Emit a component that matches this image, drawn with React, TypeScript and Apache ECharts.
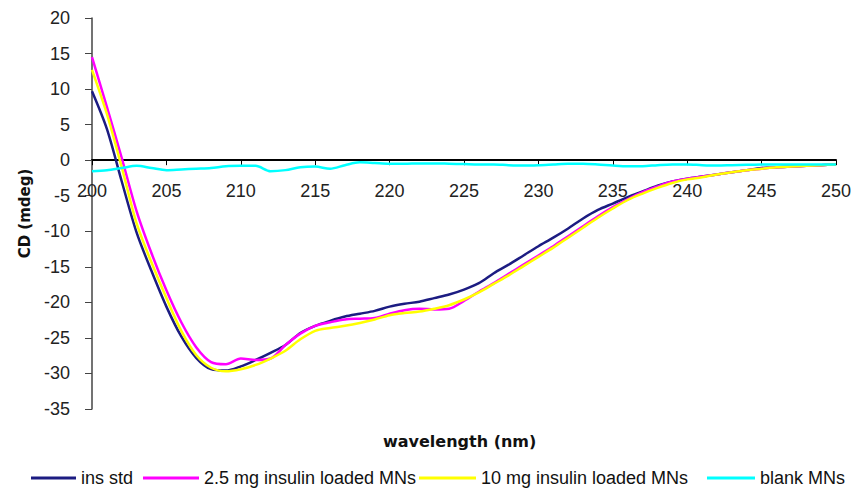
import React, { useEffect, useRef } from "react";
import * as echarts from "echarts";

const wavelengths = [
  200, 201, 202, 203, 204, 205, 206, 207, 208, 209, 210, 211, 212, 213, 214, 215, 216, 217, 218, 219,
  220, 221, 222, 223, 224, 225, 226, 227, 228, 229, 230, 231, 232, 233, 234, 235, 236, 237, 238, 239,
  240, 241, 242, 243, 244, 245, 246, 247, 248, 249, 250,
];

const insStd = [
  9.7, 4.4, -3.0, -10.2, -15.6, -20.6, -24.8, -27.8, -29.4, -29.6, -29.0, -28.1, -27.1, -26.0, -24.3, -23.3, -22.6, -22.0, -21.6, -21.2,
  -20.6, -20.2, -19.9, -19.4, -18.9, -18.2, -17.3, -15.9, -14.7, -13.4, -12.1, -10.9, -9.6, -8.2, -7.0, -6.1, -5.2, -4.4, -3.6, -3.0,
  -2.6, -2.3, -2.0, -1.7, -1.4, -1.1, -1.0, -0.9, -0.8, -0.7, -0.6,
];

const mg25 = [
  14.5, 7.5, 0.3, -7.2, -13.1, -18.3, -22.8, -26.3, -28.4, -28.7, -27.9, -28.1, -27.9, -26.0, -24.4, -23.3, -22.8, -22.4, -22.3, -22.2,
  -21.6, -21.1, -20.9, -21.0, -20.9, -19.8, -18.5, -17.3, -16.0, -14.7, -13.4, -12.1, -10.7, -9.3, -7.9, -6.6, -5.5, -4.5, -3.7, -3.0,
  -2.6, -2.3, -2.0, -1.7, -1.4, -1.2, -1.0, -0.9, -0.8, -0.7, -0.6,
];

const mg10 = [
  12.7, 6.5, -1.0, -8.9, -14.4, -19.4, -24.0, -27.4, -29.2, -29.7, -29.4, -28.8, -27.9, -26.8, -25.2, -24.0, -23.6, -23.3, -22.9, -22.4,
  -21.8, -21.5, -21.3, -20.9, -20.4, -19.6, -18.6, -17.4, -16.2, -14.9, -13.6, -12.3, -10.9, -9.5, -8.1, -6.8, -5.6, -4.7, -3.9, -3.2,
  -2.7, -2.4, -2.0, -1.7, -1.4, -1.2, -1.0, -0.9, -0.8, -0.7, -0.6,
];

const blank = [
  -1.55, -1.4, -1.1, -0.8, -1.1, -1.4, -1.3, -1.2, -1.1, -0.85, -0.8, -0.8, -1.55, -1.4, -1.0, -0.9, -1.2, -0.7, -0.3, -0.4,
  -0.5, -0.5, -0.45, -0.45, -0.5, -0.55, -0.6, -0.6, -0.7, -0.75, -0.7, -0.6, -0.5, -0.5, -0.6, -0.75, -0.85, -0.85, -0.7, -0.6,
  -0.6, -0.7, -0.75, -0.7, -0.65, -0.6, -0.6, -0.6, -0.6, -0.6, -0.6,
];

const seriesNames = ["ins std", "2.5 mg insulin loaded MNs", "10 mg insulin loaded MNs", "blank MNs"];
const seriesColors = ["#1c1c82", "#ff00ff", "#ffff00", "#00ffff"];
const seriesValues = [insStd, mg25, mg10, blank];

const FONT = "Liberation Sans, Arial, sans-serif";
const BOLD_FONT = "DejaVu Sans, Verdana, sans-serif";

// legend item placement (left edge, icon width)
const legendLefts = [26, 138, 414, 702];
const legendIconWidths = [45, 56, 57, 48];

const GRID_TOP = 18;
const GRID_BOTTOM = 79;
const Y_MIN = -35;
const Y_MAX = 20;

export default function App() {
  const ref = useRef<HTMLDivElement>(null);
  useEffect(() => {
    if (!ref.current) return;
    const chart = echarts.init(ref.current, null, { renderer: "svg" });
    const gridHeight = 488 - GRID_TOP - GRID_BOTTOM;
    const zeroOffset = -(gridHeight * (0 - Y_MIN)) / (Y_MAX - Y_MIN);
    chart.setOption({
      animation: false,
      backgroundColor: "#ffffff",
      grid: { left: 92, right: 24, top: GRID_TOP, bottom: GRID_BOTTOM },
      legend: seriesNames.map((name, k) => ({
        left: legendLefts[k],
        top: 464,
        icon: "rect",
        itemWidth: legendIconWidths[k],
        itemHeight: 3,
        textStyle: { fontFamily: FONT, fontSize: 18, color: "#111" },
        data: [name],
      })),
      graphic: [
        {
          type: "text",
          left: 383,
          top: 433,
          style: { text: "wavelength (nm)", font: `bold 16px ${BOLD_FONT}`, fill: "#111" },
        },
      ],
      xAxis: {
        type: "value",
        min: 200,
        max: 250,
        interval: 5,
        position: "bottom",
        offset: zeroOffset,
        axisLine: { onZero: false, lineStyle: { color: "#000", width: 2 } },
        axisTick: { show: true, inside: false, length: 5, lineStyle: { color: "#000", width: 1 } },
        axisLabel: { margin: 22, fontFamily: FONT, fontSize: 18, color: "#222" },
        splitLine: { show: false },
      },
      yAxis: {
        type: "value",
        min: Y_MIN,
        max: Y_MAX,
        interval: 5,
        name: "CD (mdeg)",
        nameLocation: "middle",
        nameGap: 60,
        nameTextStyle: { fontFamily: BOLD_FONT, fontSize: 15, fontWeight: "bold", color: "#111" },
        axisLine: { show: true, onZero: false, lineStyle: { color: "#444", width: 1.5 } },
        axisTick: { show: true, inside: false, length: 7, lineStyle: { color: "#444" } },
        axisLabel: { margin: 22, fontFamily: FONT, fontSize: 18, color: "#222" },
        splitLine: { show: false },
      },
      series: seriesNames.map((name, k) => ({
        name,
        type: "line",
        symbol: "none",
        smooth: 0.3,
        data: wavelengths.map((w, i) => [w, seriesValues[k][i]]),
        lineStyle: { color: seriesColors[k], width: 2.5 },
        itemStyle: { color: seriesColors[k] },
      })),
    });
    return () => chart.dispose();
  }, []);
  return (
    <div
      ref={ref}
      style={{ position: "fixed", left: 0, top: 0, width: 860, height: 488 }}
    />
  );
}
